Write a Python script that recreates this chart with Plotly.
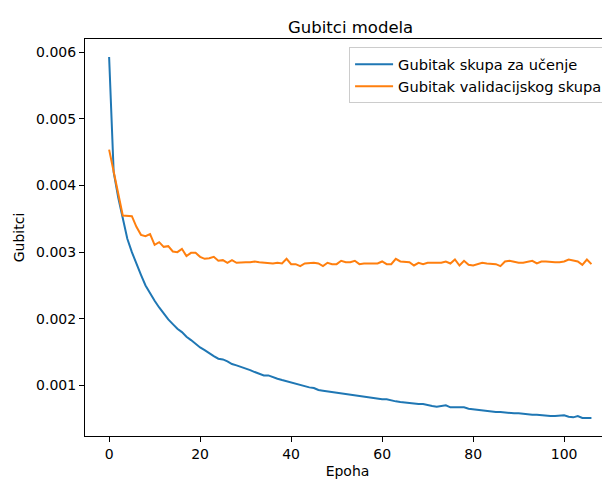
import plotly.graph_objects as go

epochs = list(range(107))

train_loss = [
    0.00593, 0.00420, 0.00382, 0.00350, 0.00320, 0.00300, 0.00282, 0.00266, 0.00250, 0.00238,
    0.00227, 0.00217, 0.00208, 0.00199, 0.00192, 0.00185, 0.00180, 0.00173, 0.00168, 0.00162,
    0.00157, 0.00153, 0.00148, 0.00144, 0.00140, 0.00139, 0.00136, 0.00132, 0.00130, 0.00128,
    0.00125, 0.00123, 0.00120, 0.00117, 0.00115, 0.00115, 0.00112, 0.00110, 0.00108, 0.00106,
    0.00104, 0.00102, 0.00100, 0.00099, 0.00097, 0.00096, 0.00093, 0.00092, 0.00091, 0.00090,
    0.00088, 0.00087, 0.00086, 0.00085, 0.00084, 0.00084, 0.00082, 0.00081, 0.00080, 0.00080,
    0.00079, 0.00079, 0.00077, 0.00076, 0.00075, 0.00074, 0.00074, 0.00073, 0.00072, 0.00072,
    0.00070, 0.00069, 0.00068, 0.00069, 0.00070, 0.00067, 0.00067, 0.00067, 0.00067, 0.00065,
    0.00064, 0.00063, 0.00062, 0.00062, 0.00061, 0.00060, 0.00060, 0.00059, 0.00059, 0.00058,
    0.00058, 0.00057, 0.00057, 0.00056, 0.00056, 0.00055, 0.00055, 0.00054, 0.00054, 0.00054,
    0.00055, 0.00053, 0.00052, 0.00054, 0.00051, 0.00051, 0.00051,
]

val_loss = [
    0.004539, 0.00423, 0.00388, 0.00355, 0.00355, 0.00354, 0.00338, 0.00326, 0.00324, 0.00327,
    0.00311, 0.00315, 0.00308, 0.00309, 0.00301, 0.00300, 0.00305, 0.00294, 0.00299, 0.00299,
    0.00293, 0.00290, 0.00291, 0.00293, 0.00287, 0.00288, 0.00284, 0.00288, 0.00284, 0.00285,
    0.00285, 0.00285, 0.00286, 0.00285, 0.00284, 0.00284, 0.00283, 0.00284, 0.00283, 0.00290,
    0.00282, 0.00282, 0.00279, 0.00283, 0.00284, 0.00284, 0.00283, 0.00279, 0.00284, 0.00282,
    0.00282, 0.00287, 0.00285, 0.00285, 0.00287, 0.00282, 0.00283, 0.00283, 0.00284, 0.00283,
    0.00286, 0.00282, 0.00282, 0.00290, 0.00286, 0.00285, 0.00285, 0.00280, 0.00284, 0.00282,
    0.00284, 0.00284, 0.00284, 0.00284, 0.00286, 0.00283, 0.00289, 0.00280, 0.00287, 0.00281,
    0.00280, 0.00282, 0.00284, 0.00283, 0.00283, 0.00282, 0.00279, 0.00286, 0.00287, 0.00285,
    0.00284, 0.00284, 0.00286, 0.00287, 0.00283, 0.00286, 0.00286, 0.00285, 0.00285, 0.00285,
    0.00286, 0.00289, 0.00287, 0.00286, 0.00281, 0.00289, 0.00282,
]

x_ticks = [0, 20, 40, 60, 80, 100]
y_ticks = [0.001, 0.002, 0.003, 0.004, 0.005, 0.006]

title_text = "Gubitci modela"
x_label = "Epoha"
y_label = "Gubitci"
train_name = "Gubitak skupa za učenje"
val_name = "Gubitak validacijskog skupa"

FONT = "DejaVu Sans"

fig = go.Figure()
fig.add_trace(go.Scatter(x=epochs, y=train_loss, mode="lines", name=train_name,
                         line=dict(color="#1f77b4", width=2)))
fig.add_trace(go.Scatter(x=epochs, y=val_loss, mode="lines", name=val_name,
                         line=dict(color="#ff7f0e", width=2)))

# page body has an 8px default margin, so the figure is sized to end at the window edge
W, H = 602, 471
fig.update_layout(
    width=W, height=H,
    margin=dict(l=77, r=0, t=31, b=43, autoexpand=False),
    paper_bgcolor="white", plot_bgcolor="white",
    font=dict(family=FONT, size=14, color="#000000"),
    title=dict(text=title_text, x=0.506, xanchor="center", xref="paper",
               y=1 - 19 / H, yanchor="middle", yref="container",
               font=dict(family=FONT, size=16.5, color="#000000")),
    showlegend=True,
    legend=dict(x=0.503, xanchor="left", y=0.979, yanchor="top",
                bgcolor="rgba(255,255,255,0.85)", bordercolor="#cccccc", borderwidth=1,
                font=dict(family=FONT, size=14.6, color="#000000"),
                itemwidth=38, tracegroupgap=0),
    xaxis=dict(range=[-5.3, 110.08], tickmode="array", tickvals=x_ticks,
               showgrid=False, zeroline=False, showline=True, linecolor="black",
               linewidth=1, mirror=True, ticks="outside", ticklen=5, tickwidth=1,
               tickcolor="black", automargin=False,
               title=dict(text=x_label, standoff=7, font=dict(family=FONT, size=14))),
    yaxis=dict(range=[0.00024, 0.0062], tickmode="array", tickvals=y_ticks,
               tickformat=".3f", showgrid=False, zeroline=False, showline=True,
               linecolor="black", linewidth=1, mirror=False, ticks="outside",
               ticklen=5, tickwidth=1, tickcolor="black", automargin=False,
               title=dict(text=y_label, standoff=8, font=dict(family=FONT, size=14))),
)

fig.write_html("out.html")
